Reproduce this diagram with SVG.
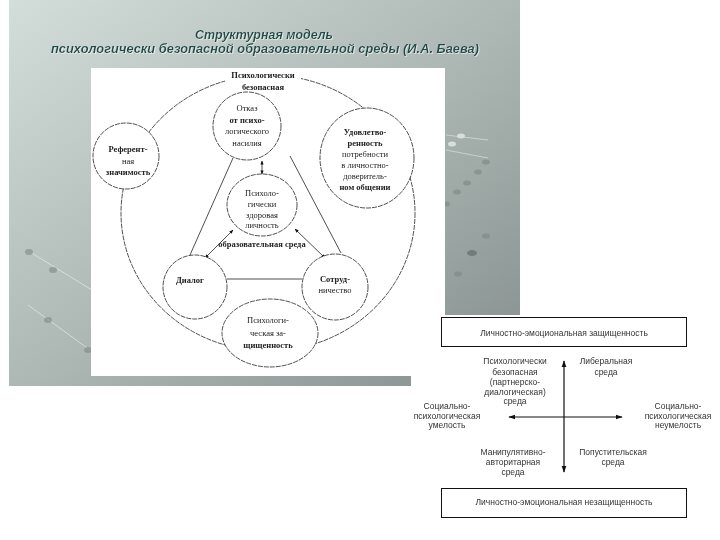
<svg xmlns="http://www.w3.org/2000/svg" width="720" height="540" viewBox="0 0 720 540">
<defs>
<linearGradient id="bg" x1="0" y1="0" x2="1" y2="1">
<stop offset="0" stop-color="#d3ddd9"/>
<stop offset="0.5" stop-color="#aeb9b6"/>
<stop offset="1" stop-color="#858e8c"/>
</linearGradient>
<filter id="glow" x="-5%" y="-30%" width="110%" height="160%">
<feDropShadow dx="0.8" dy="0.8" stdDeviation="0.3" flood-color="#eef4f2" flood-opacity="0.9"/>
</filter>
<marker id="ah" viewBox="0 0 10 10" refX="9" refY="5" markerWidth="5" markerHeight="5" orient="auto-start-reverse">
<path d="M0,1 L10,5 L0,9 z" fill="#111"/>
</marker>
<marker id="qa" viewBox="0 0 10 10" refX="9" refY="5" markerWidth="6" markerHeight="6" orient="auto-start-reverse">
<path d="M0,1.5 L10,5 L0,8.5 z" fill="#111"/>
</marker>
<style>
.t{font-family:"Liberation Serif","DejaVu Serif",serif;font-size:8.5px;fill:#222;text-anchor:middle}
.tb{font-weight:bold}
.q{font-family:"Liberation Sans","DejaVu Sans",sans-serif;font-size:8.5px;fill:#333;text-anchor:middle}
.n{fill:#fff;stroke:#222;stroke-width:0.8;stroke-dasharray:5 1}
.c{fill:none;stroke:#222;stroke-width:0.8}
.title{font-family:"Liberation Sans",Arial,sans-serif;font-size:12px;font-weight:bold;font-style:italic;text-anchor:middle;fill:#1d4b4b;filter:url(#glow)}
.dot{fill:#7a8482;opacity:0.7}
</style>
</defs>

<!-- slide background -->
<rect x="9" y="0" width="511" height="386" fill="url(#bg)"/>
<g id="decor" opacity="0.8">
<line x1="30" y1="252" x2="92" y2="290" stroke="#e8eeec" stroke-width="0.8"/>
<line x1="28" y1="305" x2="90" y2="350" stroke="#e8eeec" stroke-width="0.8"/>
<ellipse class="dot" cx="29" cy="252" rx="4" ry="3"/>
<ellipse class="dot" cx="53" cy="270" rx="4" ry="3"/>
<ellipse class="dot" cx="48" cy="320" rx="4" ry="3"/>
<ellipse class="dot" cx="88" cy="350" rx="4" ry="3"/>
<line x1="446" y1="135" x2="488" y2="140" stroke="#dfe6e4" stroke-width="0.8"/>
<line x1="446" y1="150" x2="488" y2="158" stroke="#dfe6e4" stroke-width="0.8"/>
<ellipse cx="461" cy="136" rx="4" ry="2.5" fill="#e4eae8"/>
<ellipse cx="452" cy="144" rx="4" ry="2.5" fill="#e4eae8"/>
<ellipse class="dot" cx="486" cy="162" rx="4" ry="2.5"/>
<ellipse class="dot" cx="478" cy="172" rx="4" ry="2.5"/>
<ellipse class="dot" cx="467" cy="183" rx="4" ry="2.5"/>
<ellipse class="dot" cx="457" cy="192" rx="4" ry="2.5"/>
<ellipse class="dot" cx="447" cy="204" rx="3" ry="2.5"/>
<ellipse class="dot" cx="486" cy="236" rx="4" ry="2.5"/>
<ellipse cx="472" cy="253" rx="5" ry="3" fill="#5f6866" opacity="0.8"/>
<ellipse class="dot" cx="458" cy="274" rx="4" ry="2.5"/>
</g>

<!-- title -->
<g id="title">
<text class="title" x="264" y="39" textLength="138" lengthAdjust="spacingAndGlyphs">Структурная модель</text>
<text class="title" x="265" y="53" textLength="428" lengthAdjust="spacingAndGlyphs">психологически безопасной образовательной среды (И.А. Баева)</text>
</g>

<!-- circle diagram panel -->
<rect x="91" y="68" width="354" height="308" fill="#fff"/>

<g id="outer">
<ellipse class="n" cx="268" cy="213" rx="147" ry="138" fill="none"/>
</g>

<g id="connectors">
<line class="c" x1="233" y1="158" x2="190" y2="255"/>
<line class="c" x1="290" y1="156" x2="341" y2="253"/>
<line class="c" x1="227" y1="279" x2="302" y2="279"/>
<line class="c" x1="262" y1="161" x2="262" y2="174" marker-start="url(#ah)" marker-end="url(#ah)"/>
<line class="c" x1="233" y1="230" x2="205" y2="258" marker-start="url(#ah)" marker-end="url(#ah)"/>
<line class="c" x1="295" y1="229" x2="325" y2="258" marker-start="url(#ah)" marker-end="url(#ah)"/>
</g>

<g id="label-safe">
<rect x="225" y="69" width="76" height="24" fill="#fff"/>
<text class="t tb" x="263" y="78">Психологически</text>
<text class="t tb" x="263" y="90">безопасная</text>
</g>

<g id="n-otkaz">
<circle class="n" cx="247" cy="126" r="34"/>
<text class="t" x="247" y="111">Отказ</text>
<text class="t tb" x="247" y="123">от психо-</text>
<text class="t" x="247" y="134">логического</text>
<text class="t" x="247" y="146">насилия</text>
</g>

<g id="n-referent">
<circle class="n" cx="126" cy="156" r="33"/>
<text class="t tb" x="128" y="152">Референт-</text>
<text class="t" x="128" y="164">ная</text>
<text class="t tb" x="128" y="175">значимость</text>
</g>

<g id="n-udovl">
<ellipse class="n" cx="367" cy="158" rx="47" ry="50"/>
<text class="t tb" x="365" y="135">Удовлетво-</text>
<text class="t tb" x="365" y="146">ренность</text>
<text class="t" x="365" y="157">потребности</text>
<text class="t" x="365" y="168">в личностно-</text>
<text class="t" x="365" y="179">доверитель-</text>
<text class="t tb" x="365" y="190">ном общении</text>
</g>

<g id="n-lichnost">
<ellipse class="n" cx="262" cy="205" rx="35" ry="31"/>
<text class="t" x="262" y="196">Психоло-</text>
<text class="t" x="262" y="207">гически</text>
<text class="t" x="262" y="218">здоровая</text>
<text class="t" x="262" y="228">личность</text>
</g>

<g id="label-env">
<text class="t tb" x="262" y="247">образовательная среда</text>
</g>

<g id="n-dialog">
<circle class="n" cx="195" cy="287" r="32"/>
<text class="t tb" x="190" y="283">Диалог</text>
</g>

<g id="n-sotrud">
<circle class="n" cx="335" cy="287" r="33"/>
<text class="t tb" x="335" y="282">Сотруд-</text>
<text class="t" x="335" y="293">ничество</text>
</g>

<g id="n-zash">
<ellipse class="n" cx="270" cy="333" rx="48" ry="34"/>
<text class="t" x="268" y="323">Психологи-</text>
<text class="t" x="268" y="336">ческая за-</text>
<text class="t tb" x="268" y="348">щищенность</text>
</g>

<!-- quadrant panel -->
<rect x="411" y="315" width="309" height="225" fill="#fff"/>

<g id="q-top">
<rect x="441.5" y="317.5" width="245" height="29" fill="#fff" stroke="#111" stroke-width="1"/>
<text class="q" x="564" y="336">Личностно-эмоциональная защищенность</text>
</g>
<g id="q-bottom">
<rect x="441.5" y="488.5" width="245" height="29" fill="#fff" stroke="#111" stroke-width="1"/>
<text class="q" x="564" y="505">Личностно-эмоциональная незащищенность</text>
</g>

<g id="q-axes">
<line x1="564" y1="417" x2="564" y2="361" stroke="#111" stroke-width="1.2" marker-end="url(#qa)"/>
<line x1="564" y1="417" x2="564" y2="472" stroke="#111" stroke-width="1.2" marker-end="url(#qa)"/>
<line x1="564" y1="417" x2="509" y2="417" stroke="#111" stroke-width="1.2" marker-end="url(#qa)"/>
<line x1="564" y1="417" x2="622" y2="417" stroke="#111" stroke-width="1.2" marker-end="url(#qa)"/>
</g>

<g id="q-safe">
<text class="q" x="515" y="364">Психологически</text>
<text class="q" x="515" y="375">безопасная</text>
<text class="q" x="515" y="385">(партнерско-</text>
<text class="q" x="515" y="395">диалогическая)</text>
<text class="q" x="515" y="404">среда</text>
</g>
<g id="q-liberal">
<text class="q" x="606" y="364">Либеральная</text>
<text class="q" x="606" y="375">среда</text>
</g>
<g id="q-umelost">
<text class="q" x="447" y="409">Социально-</text>
<text class="q" x="447" y="419">психологическая</text>
<text class="q" x="447" y="428">умелость</text>
</g>
<g id="q-neumelost">
<text class="q" x="678" y="409">Социально-</text>
<text class="q" x="678" y="419">психологическая</text>
<text class="q" x="678" y="428">неумелость</text>
</g>
<g id="q-manip">
<text class="q" x="513" y="455">Манипулятивно-</text>
<text class="q" x="513" y="465">авторитарная</text>
<text class="q" x="513" y="475">среда</text>
</g>
<g id="q-popust">
<text class="q" x="613" y="455">Попустительская</text>
<text class="q" x="613" y="465">среда</text>
</g>
</svg>
